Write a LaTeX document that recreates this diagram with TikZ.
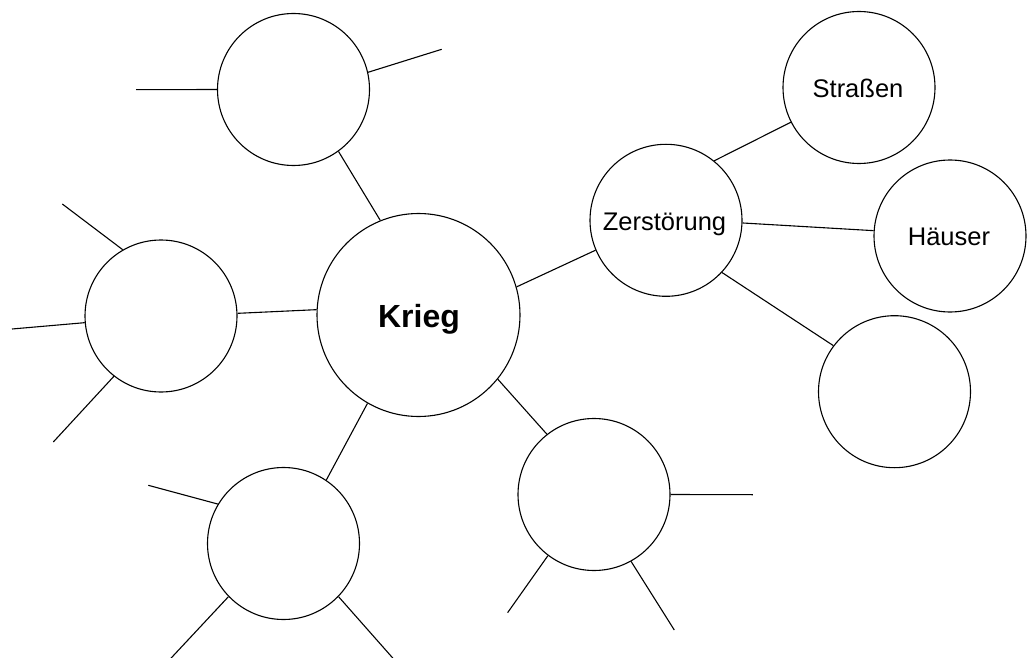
\documentclass[tikz,border=0pt]{standalone}
\usepackage{fontspec}
\setmainfont{Liberation Sans}
\begin{document}
\begin{tikzpicture}[x=1pt,y=-1pt, line width=1.1pt,
  bub/.style={circle, draw, inner sep=0pt, minimum size=152pt},
  big/.style={circle, draw, inner sep=0pt, minimum size=203pt},
  lab/.style={anchor=base, inner sep=0pt, font=\fontsize{25.5}{30}\selectfont},
  blab/.style={anchor=base, inner sep=0pt, font=\fontsize{32}{36}\selectfont\bfseries}]
\useasboundingbox (0,0) rectangle (1034,658);
% circles
\node[big] (k)  at (418.5,315) {};
\node[bub] (tl) at (293.5,89.5) {};
\node[bub] (l)  at (161,316) {};
\node[bub] (bl) at (283.5,543.5) {};
\node[bub] (br) at (594,494.5) {};
\node[bub] (z)  at (666,220.3) {};
\node[bub] (s)  at (859,87.5) {};
\node[bub] (h)  at (950,236) {};
\node[bub] (e)  at (894.5,391.7) {};
% labels
\node[blab] (kt) at (419,327.7) {Krieg};
\node[lab] (zt) at (664.5,230) {Zerstörung};
\node[lab] (ht) at (949,245) {Häuser};
\node[lab] (st) at (858,97.3) {Straßen};
% free ends
\coordinate (tl1) at (136,89.7);
\coordinate (tl2) at (441.7,49.3);
\coordinate (l1) at (62.3,204);
\coordinate (l2) at (12,329);
\coordinate (l3) at (53.3,442);
\coordinate (bl1) at (148.3,485.3);
\coordinate (bl2) at (169.3,660);
\coordinate (bl3) at (394.5,660);
\coordinate (br1) at (752.8,494.7);
\coordinate (br2) at (507.6,612.7);
\coordinate (br3) at (674.3,630);
% connectors
\draw (tl.-54.6) -- (k.112.4);
\draw (l.2.8) -- (k.177.7);
\draw (bl.56.8) -- (k.240.6);
\draw (br.128.2) -- (k.-39.2);
\draw (z.203.6) -- (k.16.3);
\draw (z.51.4) -- (s.207.2);
\draw (z.-2.8) -- (h.176.2);
\draw (z.-43.4) -- (e.143.2);
\draw (tl.180) -- (tl1);
\draw (tl.13.4) -- (tl2);
\draw (l.120.4) -- (l1);
\draw (l.185) -- (l2);
\draw (l.232.7) -- (l3);
\draw (bl.149.2) -- (bl1);
\draw (bl.224.8) -- (bl2);
\draw (bl.-44.8) -- (bl3);
\draw (br.0) -- (br1);
\draw (br.233.4) -- (br2);
\draw (br.-61.2) -- (br3);
\end{tikzpicture}
\end{document}
